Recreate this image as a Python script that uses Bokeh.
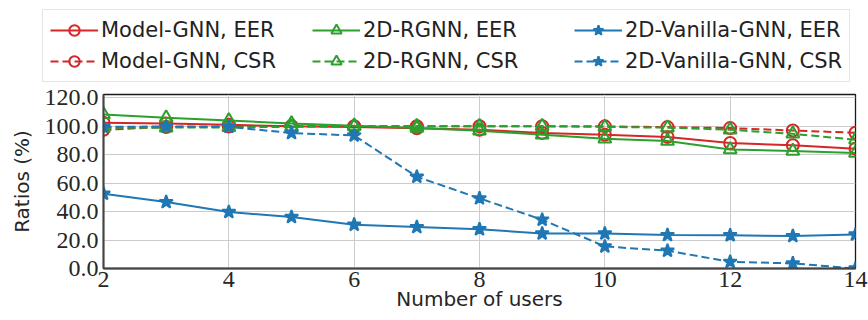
from bokeh.plotting import figure
from bokeh.layouts import column
from bokeh.models import Legend, LegendItem, PrintfTickFormatter, FixedTicker, Range1d
from bokeh.embed import file_html
from bokeh.resources import INLINE

users = [2, 3, 4, 5, 6, 7, 8, 9, 10, 11, 12, 13, 14]
model_eer = [102.5, 102.0, 101.0, 100.0, 99.5, 98.5, 97.5, 95.3, 94.0, 92.5, 88.2, 86.6, 84.2]
model_csr = [97.5, 99.5, 99.8, 100.0, 100.0, 100.0, 100.0, 100.0, 99.9, 99.4, 98.7, 97.0, 95.4]
rgnn_eer = [108.3, 106.0, 104.0, 102.0, 100.3, 98.7, 96.8, 94.0, 91.2, 89.6, 83.6, 82.6, 81.2]
rgnn_csr = [99.0, 99.0, 99.2, 99.6, 100.0, 100.0, 100.0, 100.0, 99.5, 99.0, 97.5, 94.7, 90.5]
van_eer = [52.6, 46.7, 39.7, 36.2, 30.8, 29.1, 27.6, 24.6, 24.6, 23.5, 23.4, 22.8, 23.9]
van_csr = [99.6, 99.8, 99.6, 95.2, 93.5, 64.5, 49.3, 34.3, 15.5, 12.5, 4.7, 3.6, 0.0]

x_ticks = [2, 4, 6, 8, 10, 12, 14]
y_ticks = [0, 20, 40, 60, 80, 100, 120]

RED = "#d62728"
GREEN = "#2ca02c"
BLUE = "#1f77b4"

series = [
    ("Model-GNN, EER", model_eer, RED, "solid", "circle", False),
    ("Model-GNN, CSR", model_csr, RED, "8 4", "circle", False),
    ("2D-RGNN, EER", rgnn_eer, GREEN, "solid", "triangle", False),
    ("2D-RGNN, CSR", rgnn_csr, GREEN, "8 4", "triangle", False),
    ("2D-Vanilla-GNN, EER", van_eer, BLUE, "solid", "star", True),
    ("2D-Vanilla-GNN, CSR", van_csr, BLUE, "8 4", "star", True),
]

# Main plot
p = figure(width=868, height=237, output_backend="svg", toolbar_location=None,
           x_range=Range1d(2, 14), y_range=Range1d(0, 122.3),
           min_border_left=103, min_border_right=13, min_border_top=11, min_border_bottom=52)
p.background_fill_color = "white"
p.border_fill_color = "white"
p.outline_line_color = "#1a1a1a"
p.outline_line_width = 1.3

# Legend strip (separate figure above the plot); its proxy glyphs lie outside its ranges
lg = figure(width=868, height=83, output_backend="svg", toolbar_location=None,
            x_range=Range1d(-100, -99), y_range=Range1d(-100, -99),
            x_axis_type=None, y_axis_type=None,
            min_border_left=0, min_border_right=0, min_border_top=0, min_border_bottom=0)
lg.outline_line_color = None
lg.background_fill_color = "white"
lg.border_fill_color = "white"
lg.xgrid.visible = False
lg.ygrid.visible = False

# Stop the layout from aligning the legend strip's frame with the plot's frame
if "frame_align" in type(lg).properties():
    lg.frame_align = False
    p.frame_align = False
    legend_loc = (42, 1)
    label_w = 206
else:
    legend_loc = (0, 1)
    label_w = 174

items = {}
for label, ys, color, dash, marker, filled in series:
    size = 13 if marker == "triangle" else (14 if marker == "star" else 12)
    fill = color if filled else None
    p.line(users, ys, line_color=color, line_width=2, line_dash=dash)
    p.scatter(users, ys, marker=marker, size=size, line_color=color, line_width=2, fill_color=fill)
    ln = lg.line(users, ys, line_color=color, line_width=2, line_dash=dash)
    sc = lg.scatter(users, ys, marker=marker, size=size, line_color=color, line_width=2, fill_color=fill)
    items[label] = LegendItem(label=label, renderers=[ln, sc])

order = ["Model-GNN, EER", "2D-RGNN, EER", "2D-Vanilla-GNN, EER",
         "Model-GNN, CSR", "2D-RGNN, CSR", "2D-Vanilla-GNN, CSR"]

legend = Legend(items=[items[k] for k in order], ncols=3, orientation="horizontal",
                label_text_font="DejaVu Sans", label_text_font_size="21px",
                label_text_color="#222222",
                glyph_width=48, glyph_height=26, label_height=26, label_width=label_w,
                label_standoff=3, spacing=5, padding=7, margin=0,
                border_line_color="#cccccc", border_line_width=1,
                background_fill_color="white", background_fill_alpha=1.0,
                location=legend_loc)
lg.add_layout(legend, "center")

for ax in (p.xaxis[0], p.yaxis[0]):
    ax.axis_line_color = "#444444"
    ax.axis_line_width = 2
    ax.major_tick_line_color = None
    ax.minor_tick_line_color = None
    ax.major_tick_out = 0
    ax.major_tick_in = 0
    ax.minor_tick_out = 0
    ax.minor_tick_in = 0
    ax.major_label_text_font = "Liberation Serif"
    ax.major_label_text_font_size = "24px"
    ax.major_label_text_color = "#262626"
    ax.axis_label_text_font = "DejaVu Sans"
    ax.axis_label_text_font_size = "20px"
    ax.axis_label_text_font_style = "normal"
    ax.axis_label_text_color = "#262626"

p.xaxis.ticker = FixedTicker(ticks=x_ticks)
p.yaxis.ticker = FixedTicker(ticks=y_ticks)
p.yaxis.formatter = PrintfTickFormatter(format="%.1f")
p.xaxis.axis_label = "Number of users"
p.yaxis.axis_label = "Ratios (%)"
p.xaxis.major_label_standoff = 3
p.yaxis.major_label_standoff = 5
p.xaxis.axis_label_standoff = -3
p.yaxis.axis_label_standoff = 8

p.xgrid.grid_line_color = "#cccccc"
p.ygrid.grid_line_color = "#cccccc"
p.xgrid.grid_line_width = 1
p.ygrid.grid_line_width = 1

layout = column(lg, p, spacing=0)
open("out.html", "w").write(file_html(layout, INLINE))
